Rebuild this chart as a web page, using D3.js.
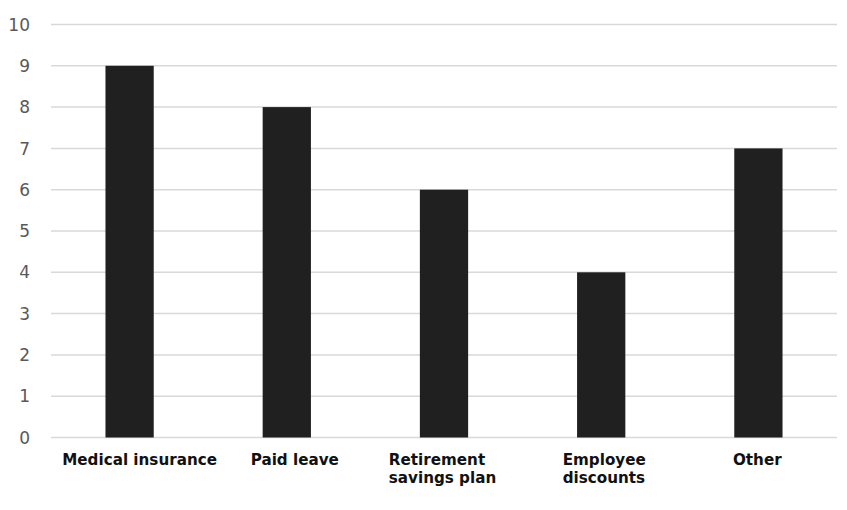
<!DOCTYPE html>
<html><head><meta charset="utf-8">
<script src="https://cdn.jsdelivr.net/npm/d3@7"></script>
<style>body{margin:0;background:#fff}</style>
</head><body>
<svg id="c" width="847" height="510"></svg>
<script>
const categories = [["Medical insurance"], ["Paid leave"], ["Retirement", "savings plan"], ["Employee", "discounts"], ["Other"]];
const values = [9, 8, 6, 4, 7];
const yTicks = [0,1,2,3,4,5,6,7,8,9,10];

(function() {
const svg = d3.select("#c");
const mLeft = 51, mRight = 837, mTop = 24.5, mBottom = 437.5;
const labelNudge = [10, 8, -1.5, 3, -1];
const keys = categories.map(c => c.join(" "));
const x = d3.scaleBand().domain(keys).range([mLeft, mRight]).padding(0);
const y = d3.scaleLinear().domain([0, 10]).range([mBottom, mTop]);

svg.append("g").selectAll("line").data(yTicks).join("line")
  .attr("x1", mLeft).attr("x2", mRight)
  .attr("y1", d => y(d)).attr("y2", d => y(d))
  .attr("stroke", "#d9d9d9").attr("stroke-width", 1.5);

svg.append("g").selectAll("text").data(yTicks).join("text")
  .attr("x", 30).attr("y", d => y(d)).attr("dy", "0.36em")
  .attr("text-anchor", "end")
  .attr("font-family", "DejaVu Sans, Verdana, sans-serif")
  .attr("font-size", 17).attr("fill", "#595959")
  .text(d => d);

const bw = x.bandwidth() * 0.307;
svg.append("g").selectAll("rect").data(values).join("rect")
  .attr("x", (d, i) => x(keys[i]) + x.bandwidth() / 2 - bw / 2)
  .attr("width", bw)
  .attr("y", d => y(d))
  .attr("height", d => y(0) - y(d))
  .attr("fill", "#202020");

const lab = svg.append("g").selectAll("g").data(categories).join("g")
  .attr("transform", (d, i) => `translate(${x(keys[i]) + x.bandwidth() / 2 + labelNudge[i]},465) scale(0.92,1)`);
lab.each(function(lines) {
  const g = d3.select(this);
  const t = g.append("text")
    .attr("font-family", "DejaVu Sans, Verdana, sans-serif")
    .attr("font-weight", "bold").attr("font-size", 16.5).attr("fill", "#111");
  lines.forEach((l, j) => t.append("tspan").attr("x", 0).attr("y", j * 18.5).text(l));
  const w = t.node().getBBox().width;
  t.selectAll("tspan").attr("x", -w / 2);
});
})();
</script>
</body></html>
